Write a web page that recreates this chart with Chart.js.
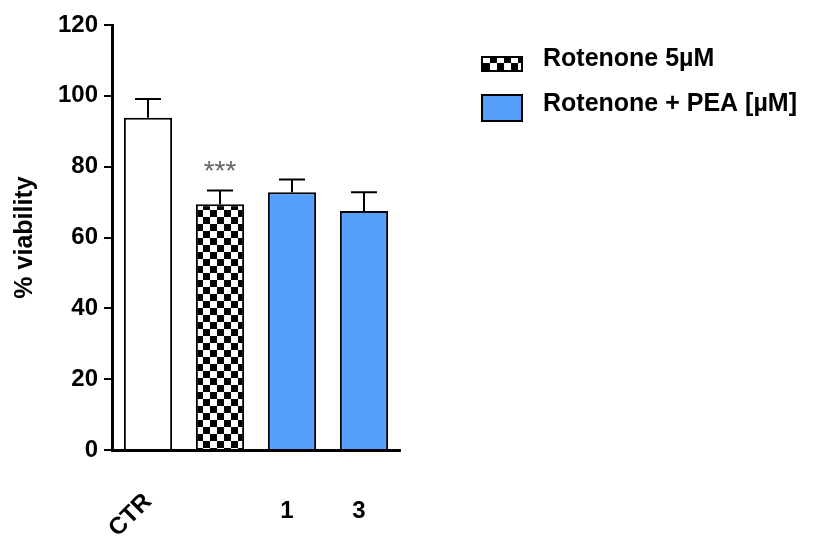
<!DOCTYPE html>
<html>
<head>
<meta charset="utf-8">
<script src="https://cdn.jsdelivr.net/npm/chart.js@4"></script>
<style>
  html, body { margin: 0; padding: 0; background: #fff; }
  #wrap { width: 814px; height: 542px; }
</style>
</head>
<body>
<div id="wrap"><canvas id="chartViability" width="814" height="542"></canvas></div>
<script>
// datos
const categories = ["CTR", "", "1", "3"];
const viability = [93.8, 69.4, 72.8, 67.5];
const sem = [5.3, 3.9, 3.6, 5.3];
const significance = ["", "***", "", ""];
const legendLabels = ["Rotenone 5\u00b5M", "Rotenone + PEA [\u00b5M]"];
const yTicks = [0, 20, 40, 60, 80, 100, 120];

const FONT = "'Liberation Sans', Arial, sans-serif";
const BLUE = "#559ffa";

// patron de tablero para rotenona
function checkerPattern(size) {
  const c = document.createElement("canvas");
  c.width = size * 2;
  c.height = size * 2;
  const g = c.getContext("2d");
  g.fillStyle = "#fff";
  g.fillRect(0, 0, size * 2, size * 2);
  g.fillStyle = "#000";
  g.fillRect(0, 0, size, size);
  g.fillRect(size, size, size, size);
  return g.createPattern(c, "repeat");
}
const checker = checkerPattern(7);

// barras de error + asteriscos + etiquetas del eje x
const extras = {
  id: "extras",
  afterDatasetsDraw(chart) {
    const ctx = chart.ctx;
    const y = chart.scales.y;
    const x = chart.scales.x;
    const meta = chart.getDatasetMeta(0);
    ctx.save();
    ctx.strokeStyle = "#000";
    ctx.lineWidth = 2;
    meta.data.forEach((bar, i) => {
      const top = y.getPixelForValue(viability[i] + sem[i]);
      ctx.beginPath();
      ctx.moveTo(bar.x, bar.y);
      ctx.lineTo(bar.x, top);
      ctx.moveTo(bar.x - 13, top);
      ctx.lineTo(bar.x + 13, top);
      ctx.stroke();
      if (significance[i]) {
        ctx.fillStyle = "#666";
        ctx.font = "28px " + FONT;
        ctx.textAlign = "center";
        ctx.textBaseline = "middle";
        ctx.fillText(significance[i], bar.x, top - 18);
      }
    });
    // etiquetas x
    ctx.fillStyle = "#000";
    ctx.font = "bold 24px " + FONT;
    categories.forEach((lab, i) => {
      if (!lab) return;
      const px = x.getPixelForValue(i);
      if (i === 0) {
        ctx.save();
        ctx.translate(px, x.top + 48);
        ctx.rotate(-Math.PI / 4);
        ctx.textAlign = "right";
        ctx.textBaseline = "middle";
        ctx.fillText(lab, 0, 0);
        ctx.restore();
      } else {
        ctx.textAlign = "center";
        ctx.textBaseline = "middle";
        ctx.fillText(lab, px - 5, x.top + 61);
      }
    });
    ctx.restore();
  },
  afterDraw(chart) {
    // leyenda
    const ctx = chart.ctx;
    ctx.save();
    ctx.lineWidth = 2;
    ctx.strokeStyle = "#000";
    ctx.fillStyle = checker;
    ctx.fillRect(482, 57, 40, 14);
    ctx.strokeRect(482, 57, 40, 14);
    ctx.fillStyle = BLUE;
    ctx.fillRect(482, 95, 40, 26);
    ctx.strokeRect(482, 95, 40, 26);
    ctx.fillStyle = "#000";
    ctx.font = "bold 25px " + FONT;
    ctx.textAlign = "left";
    ctx.textBaseline = "middle";
    ctx.fillText(legendLabels[0], 543, 59);
    ctx.fillText(legendLabels[1], 543, 104);
    ctx.restore();
  }
};

const ctx_v = document.getElementById("chartViability");
const myChart = new Chart(ctx_v, {
  type: "bar",
  data: {
    labels: categories,
    datasets: [
      {
        label: "% viability",
        data: viability,
        backgroundColor: ["#ffffff", checker, BLUE, BLUE],
        borderColor: "#000",
        borderWidth: 2,
        borderSkipped: "bottom",
        categoryPercentage: 1,
        barPercentage: 0.67,
      },
    ],
  },
  options: {
    responsive: false,
    animation: false,
    layout: { padding: { top: 25, right: 414, left: 0, bottom: 0 } },
    plugins: { legend: { display: false }, tooltip: { enabled: false } },
    scales: {
      x: {
        ticks: { display: false },
        grid: { drawOnChartArea: false, drawTicks: false },
        border: { color: "#000", width: 3 },
        afterFit: (s) => { s.height = 92; },
      },
      y: {
        min: 0,
        max: 120,
        afterBuildTicks: (s) => { s.ticks = yTicks.map((v) => ({ value: v })); },
        ticks: {
          color: "#000",
          padding: 6,
          font: { family: FONT, size: 24, weight: "bold" },
        },
        grid: { drawOnChartArea: false, drawTicks: true, tickLength: 8, color: "#000", lineWidth: 2 },
        border: { color: "#000", width: 3 },
        title: {
          display: true,
          text: "% viability",
          color: "#000",
          font: { family: FONT, size: 25, weight: "bold" },
          padding: { top: 10, bottom: 0 },
        },
        afterFit: (s) => { s.width = 112; },
      },
    },
  },
  plugins: [extras],
});
</script>
</body>
</html>
